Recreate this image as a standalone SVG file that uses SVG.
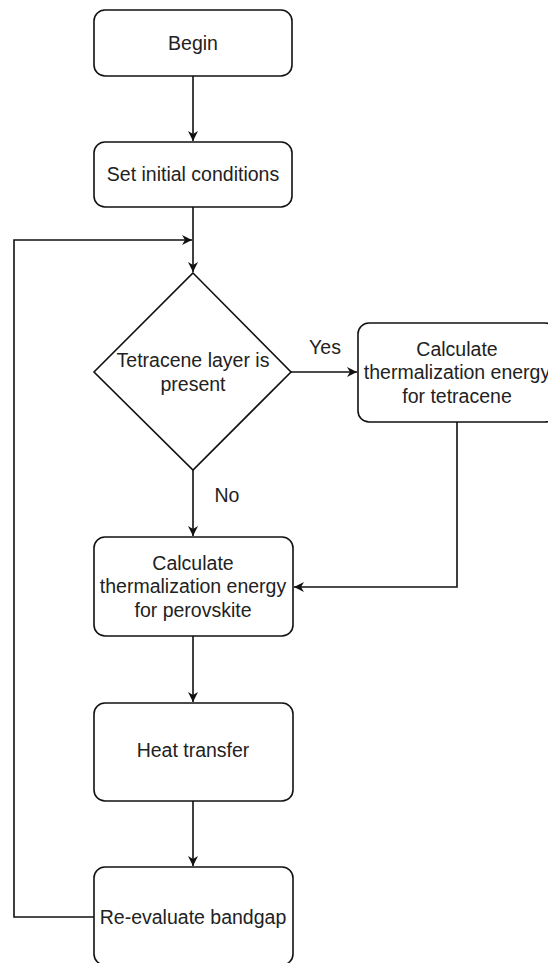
<svg xmlns="http://www.w3.org/2000/svg" width="548" height="963" viewBox="0 0 548 963">
<style>
.box{fill:#fff;stroke:#111;stroke-width:1.6}
.t{font-family:"Liberation Sans",Arial,sans-serif;font-size:19.5px;fill:#222;text-anchor:middle;dominant-baseline:central}
.c{fill:none;stroke:#111;stroke-width:1.6}
</style>
<defs>
<marker id="ah" markerWidth="12" markerHeight="12" refX="10" refY="6" orient="auto" markerUnits="userSpaceOnUse">
<path d="M0,1 L10,6 L0,11 L3,6 Z" fill="#111"/>
</marker>
</defs>
<rect width="548" height="963" fill="#fff"/>
<g id="connectors">
<path class="c" d="M193,76 V141" marker-end="url(#ah)"/>
<path class="c" d="M193,207 V272" marker-end="url(#ah)"/>
<path class="c" d="M94,917 H14 V240 H192" marker-end="url(#ah)"/>
<path class="c" d="M291,372 H357" marker-end="url(#ah)"/>
<path class="c" d="M193,470 V536" marker-end="url(#ah)"/>
<path class="c" d="M457,422 V587 H294" marker-end="url(#ah)"/>
<path class="c" d="M193,636 V702" marker-end="url(#ah)"/>
<path class="c" d="M193,801 V866" marker-end="url(#ah)"/>
<text class="t" x="325" y="347">Yes</text>
<text class="t" x="227" y="495">No</text>
</g>
<g id="begin">
<rect class="box" x="94" y="10" width="198" height="66" rx="11"/>
<text class="t" x="193" y="43">Begin</text>
</g>
<g id="init">
<rect class="box" x="94" y="142" width="198" height="65" rx="11"/>
<text class="t" x="193" y="174">Set initial conditions</text>
</g>
<g id="decision">
<path class="box" d="M193,273 L291,372 L193,470 L94,372 Z"/>
<text class="t" x="193" y="360">Tetracene layer is</text>
<text class="t" x="193" y="384">present</text>
</g>
<g id="tetracene">
<rect class="box" x="358" y="323" width="198" height="99" rx="11"/>
<text class="t" x="457" y="349">Calculate</text>
<text class="t" x="457" y="372">thermalization energy</text>
<text class="t" x="457" y="396">for tetracene</text>
</g>
<g id="perovskite">
<rect class="box" x="94" y="537" width="199" height="99" rx="11"/>
<text class="t" x="193" y="563">Calculate</text>
<text class="t" x="193" y="586">thermalization energy</text>
<text class="t" x="193" y="610">for perovskite</text>
</g>
<g id="heat">
<rect class="box" x="94" y="703" width="199" height="98" rx="11"/>
<text class="t" x="193" y="750">Heat transfer</text>
</g>
<g id="reevaluate">
<rect class="box" x="94" y="867" width="199" height="98" rx="11"/>
<text class="t" x="193" y="917">Re-evaluate bandgap</text>
</g>
</svg>
